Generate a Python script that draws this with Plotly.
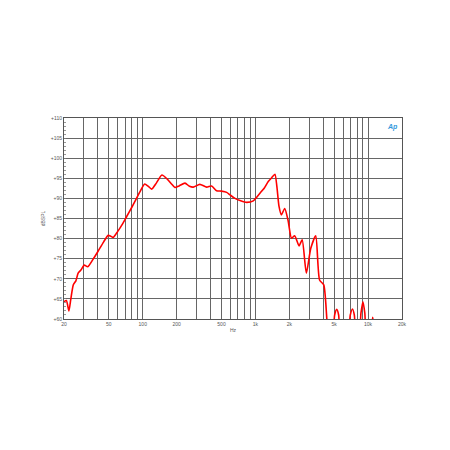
import plotly.graph_objects as go

freq_hz = [20, 21, 22.1, 23, 24.2, 25.5, 26.7, 28.5, 30.2, 32.5, 36.3, 40, 45, 49.3, 52, 54.7, 60, 66, 72, 80, 88, 94.6, 104, 112, 120, 132, 148, 165, 180, 193, 210, 237, 260, 281, 321, 369, 408, 452, 500, 556, 600, 659, 740, 837, 958, 1098, 1200, 1300, 1400, 1490, 1550, 1620, 1700, 1820, 1950, 2090, 2230, 2440, 2600, 2830, 3100, 3430, 3710, 4040, 4300, 4450, 4850, 5050, 5270, 5480, 5700, 6600, 6950, 7270, 7550, 7850, 8300, 8650, 9000, 9350, 9700, 10600, 11000, 11400]
spl_db = [64.3, 64.6, 62.0, 65.0, 68.5, 69.5, 71.4, 72.3, 73.4, 73.0, 74.9, 76.8, 79.2, 80.8, 80.6, 80.3, 81.8, 83.6, 85.5, 87.8, 90.0, 91.7, 93.6, 93.0, 92.3, 93.8, 95.8, 94.8, 93.6, 92.7, 93.1, 93.8, 93.0, 92.8, 93.5, 92.8, 93.1, 91.9, 91.8, 91.5, 90.8, 90.0, 89.4, 89.0, 89.4, 91.3, 92.6, 94.2, 95.2, 96.0, 93.0, 88.0, 85.9, 87.5, 84.5, 80.1, 80.7, 78.2, 79.7, 71.4, 77.6, 80.7, 69.7, 68.5, 60.2, 55.0, 56.0, 61.0, 62.4, 61.0, 56.0, 56.0, 61.0, 62.5, 61.0, 56.0, 56.0, 61.5, 64.3, 61.5, 56.0, 57.0, 60.4, 57.0]

grid_freqs = [20, 30, 40, 50, 60, 70, 80, 90, 100, 200, 300, 400, 500, 600, 700, 800, 900,
              1000, 2000, 3000, 4000, 5000, 6000, 7000, 8000, 9000, 10000, 20000]
label_map = {20: "20", 50: "50", 100: "100", 200: "200", 500: "500", 1000: "1k",
             2000: "2k", 5000: "5k", 10000: "10k", 20000: "20k"}
x_ticktext = [label_map.get(f, "") for f in grid_freqs]
y_ticks = [60, 65, 70, 75, 80, 85, 90, 95, 100, 105, 110]
y_ticktext = ["+%d" % v for v in y_ticks]

fig = go.Figure()
fig.add_trace(go.Scatter(x=freq_hz, y=spl_db, mode="lines",
                         line=dict(color="#ff0000", width=1.6, shape="spline", smoothing=0.6),
                         hoverinfo="skip", showlegend=False))

fig.update_layout(
    width=450, height=450,
    margin=dict(l=56, r=56, t=110, b=139),
    paper_bgcolor="white", plot_bgcolor="white",
    font=dict(family="Liberation Sans, Arial, sans-serif", size=5, color="#555555"),
    showlegend=False,
)
fig.update_xaxes(
    type="log", range=[1.30103, 4.30103],
    tickvals=grid_freqs, ticktext=x_ticktext,
    showgrid=True, gridcolor="#666666", gridwidth=1,
    showline=True, linecolor="#555555", linewidth=1, mirror=True,
    ticks="", tickfont=dict(size=5, color="#555555"),
    title=dict(text="Hz", font=dict(size=5, color="#555555"), standoff=2),
    zeroline=False,
)
fig.update_yaxes(
    range=[60, 110], tickvals=y_ticks, ticktext=y_ticktext,
    showgrid=True, gridcolor="#666666", gridwidth=1,
    showline=True, linecolor="#555555", linewidth=1, mirror=True,
    ticks="inside", ticklen=2, tickcolor="#777777",
    minor=dict(ticks="inside", ticklen=1.5, dtick=1, tickcolor="#999999", showgrid=False),
    tickfont=dict(size=5, color="#555555"),
    title=dict(text="dBSPL", font=dict(size=5, color="#555555"), standoff=4),
    zeroline=False,
)
fig.add_annotation(x=0.995, y=0.985, xref="paper", yref="paper", text="<i><b>Ap</b></i>",
                   showarrow=False, xanchor="right", yanchor="top",
                   font=dict(size=7, color="#3399dd"))

fig.write_html("out.html")
